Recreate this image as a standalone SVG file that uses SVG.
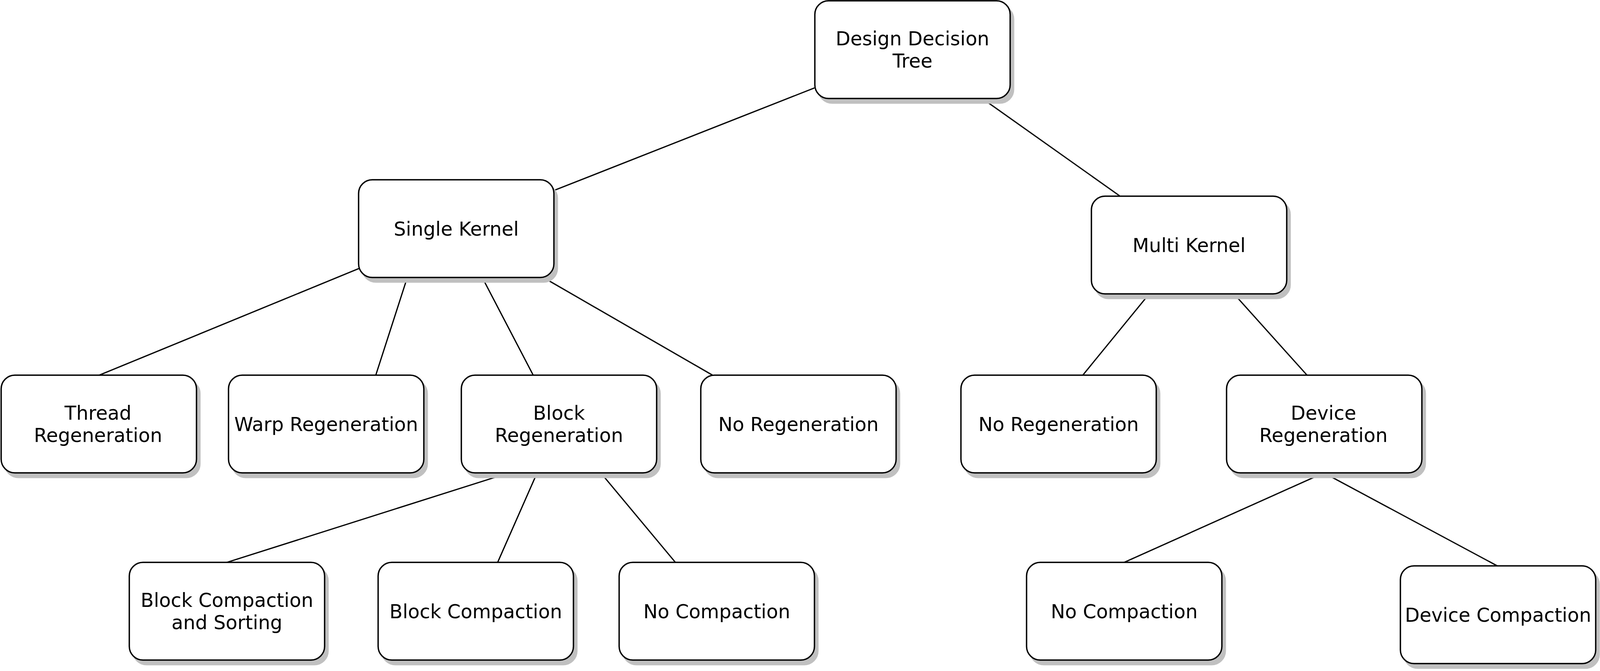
<svg xmlns="http://www.w3.org/2000/svg" width="4150" height="1717" viewBox="0 0 4150 1717">
<style>
.box{fill:#ffffff;stroke:#000000;stroke-width:3.5}
.sh{fill:#c0c0c0;stroke:#c0c0c0;stroke-width:3}
.lbl{font-family:"DejaVu Sans","Verdana",sans-serif;font-size:49px;fill:#000000;text-anchor:middle}
.edge{stroke:#000000;stroke-width:3.2;fill:none}
</style>
<defs>
<rect id="shadowShape" class="sh" x="0" y="0" width="500" height="250" rx="35" ry="35"/>
</defs>
<rect x="0" y="0" width="4150" height="1717" fill="#ffffff"/>
<g id="connectors">
<line class="edge" x1="2085" y1="225" x2="1419" y2="487"/>
<line class="edge" x1="2516" y1="253" x2="2866" y2="501"/>
<line class="edge" x1="919" y1="687" x2="254" y2="960"/>
<line class="edge" x1="1043" y1="709" x2="962" y2="960"/>
<line class="edge" x1="1234" y1="709" x2="1365" y2="960"/>
<line class="edge" x1="1389" y1="709" x2="1824" y2="960"/>
<line class="edge" x1="2942" y1="752" x2="2772" y2="960"/>
<line class="edge" x1="3159" y1="752" x2="3346" y2="960"/>
<line class="edge" x1="1303" y1="1210" x2="581" y2="1439"/>
<line class="edge" x1="1375" y1="1210" x2="1274" y2="1439"/>
<line class="edge" x1="1538" y1="1210" x2="1729" y2="1439"/>
<line class="edge" x1="3389" y1="1210" x2="2878" y2="1439"/>
<line class="edge" x1="3389" y1="1210" x2="3833" y2="1448"/>
</g>
<g id="n-design-decision-tree">
<use href="#shadowShape" x="2095" y="14"/>
<rect class="box" x="2086" y="2" width="500" height="250" rx="35" ry="35"/>
<text class="lbl" x="2336" y="116">Design Decision</text>
<text class="lbl" x="2336" y="173">Tree</text>
</g>
<g id="n-single-kernel">
<use href="#shadowShape" x="927" y="472"/>
<rect class="box" x="918" y="460" width="500" height="250" rx="35" ry="35"/>
<text class="lbl" x="1168" y="603">Single Kernel</text>
</g>
<g id="n-multi-kernel">
<use href="#shadowShape" x="2803" y="514"/>
<rect class="box" x="2794" y="502" width="500" height="250" rx="35" ry="35"/>
<text class="lbl" x="3044" y="645">Multi Kernel</text>
</g>
<g id="n-thread-regeneration">
<use href="#shadowShape" x="12" y="972"/>
<rect class="box" x="3" y="960" width="500" height="250" rx="35" ry="35"/>
<text class="lbl" x="251" y="1074">Thread</text>
<text class="lbl" x="251" y="1131">Regeneration</text>
</g>
<g id="n-warp-regeneration">
<use href="#shadowShape" x="594" y="972"/>
<rect class="box" x="585" y="960" width="500" height="250" rx="35" ry="35"/>
<text class="lbl" x="835" y="1103">Warp Regeneration</text>
</g>
<g id="n-block-regeneration">
<use href="#shadowShape" x="1190" y="972"/>
<rect class="box" x="1181" y="960" width="500" height="250" rx="35" ry="35"/>
<text class="lbl" x="1431" y="1074">Block</text>
<text class="lbl" x="1431" y="1131">Regeneration</text>
</g>
<g id="n-no-regeneration-left">
<use href="#shadowShape" x="1803" y="972"/>
<rect class="box" x="1794" y="960" width="500" height="250" rx="35" ry="35"/>
<text class="lbl" x="2044" y="1103">No Regeneration</text>
</g>
<g id="n-no-regeneration-right">
<use href="#shadowShape" x="2469" y="972"/>
<rect class="box" x="2460" y="960" width="500" height="250" rx="35" ry="35"/>
<text class="lbl" x="2710" y="1103">No Regeneration</text>
</g>
<g id="n-device-regeneration">
<use href="#shadowShape" x="3149" y="972"/>
<rect class="box" x="3140" y="960" width="500" height="250" rx="35" ry="35"/>
<text class="lbl" x="3388" y="1074">Device</text>
<text class="lbl" x="3388" y="1131">Regeneration</text>
</g>
<g id="n-block-compaction-sorting">
<use href="#shadowShape" x="340" y="1451"/>
<rect class="box" x="331" y="1439" width="500" height="250" rx="35" ry="35"/>
<text class="lbl" x="581" y="1553">Block Compaction</text>
<text class="lbl" x="581" y="1610">and Sorting</text>
</g>
<g id="n-block-compaction">
<use href="#shadowShape" x="977" y="1451"/>
<rect class="box" x="968" y="1439" width="500" height="250" rx="35" ry="35"/>
<text class="lbl" x="1218" y="1582">Block Compaction</text>
</g>
<g id="n-no-compaction-left">
<use href="#shadowShape" x="1594" y="1451"/>
<rect class="box" x="1585" y="1439" width="500" height="250" rx="35" ry="35"/>
<text class="lbl" x="1835" y="1582">No Compaction</text>
</g>
<g id="n-no-compaction-right">
<use href="#shadowShape" x="2637" y="1451"/>
<rect class="box" x="2628" y="1439" width="500" height="250" rx="35" ry="35"/>
<text class="lbl" x="2878" y="1582">No Compaction</text>
</g>
<g id="n-device-compaction">
<use href="#shadowShape" x="3594" y="1460"/>
<rect class="box" x="3585" y="1448" width="500" height="250" rx="35" ry="35"/>
<text class="lbl" x="3835" y="1591">Device Compaction</text>
</g>
</svg>
